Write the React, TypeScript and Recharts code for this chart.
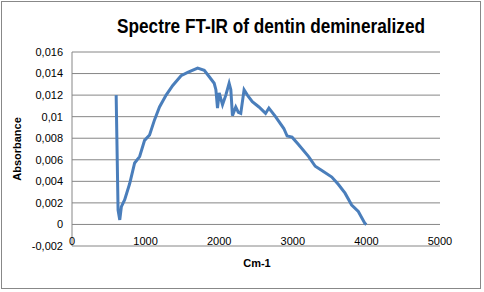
import React from 'react';
import { LineChart, Line, XAxis, YAxis, CartesianGrid } from 'recharts';

const wavenumbers = [
  600, 626, 649, 671, 716, 784, 851, 919, 986, 1054, 1121, 1189, 1279, 1369, 1482, 1572, 1707, 1797,
  1865, 1932, 1955, 1977, 2000, 2045, 2090, 2135, 2158, 2180, 2225, 2260, 2293, 2338, 2383, 2450,
  2540, 2630, 2675, 2765, 2878, 2923, 2990, 3080, 3215, 3305, 3395, 3530, 3620, 3710, 3800, 3890,
  3980, 4000,
];
const absorbance = [
  0.012, 0.00134, 0.00042, 0.00165, 0.0023, 0.0038, 0.0057, 0.0063, 0.0078, 0.0083, 0.0097, 0.0109,
  0.012, 0.0129, 0.0138, 0.0141, 0.0145, 0.0143, 0.0137, 0.0131, 0.0125, 0.0108, 0.0122, 0.0111,
  0.012, 0.0131, 0.0125, 0.0101, 0.0109, 0.0104, 0.0103, 0.0125, 0.012, 0.0114, 0.0109, 0.0103,
  0.0108, 0.01, 0.0089, 0.0082, 0.0081, 0.0074, 0.0063, 0.0054, 0.005, 0.0044, 0.0037, 0.0029,
  0.0018, 0.0012, 0.0001, 0,
];
const xTicks = [0, 1000, 2000, 3000, 4000, 5000];
const yTicks = [-0.002, 0, 0.002, 0.004, 0.006, 0.008, 0.01, 0.012, 0.014, 0.016];

const data = wavenumbers.map((w, i) => ({ w, a: absorbance[i] }));

const fmtY = (v: number) => String(Number(v.toFixed(3))).replace('.', ',');

const FONT = '"Liberation Sans", Arial, sans-serif';

export default function App() {
  return (
    <div style={{ position: 'absolute', left: 0, top: 0, width: 484, height: 292, background: '#fff' }}>
      <LineChart width={484} height={292} data={data} margin={{ top: 52, right: 44, bottom: 0, left: 0 }}>
        <CartesianGrid vertical={false} stroke="#868686" strokeWidth={1} />
        <XAxis
          dataKey="w"
          type="number"
          domain={[0, 5000]}
          ticks={xTicks}
          height={46}
          axisLine={false}
          tickLine={false}
          tickSize={0}
          tickMargin={0}
          interval={0}
          tick={{ fill: '#000', fontSize: 11, fontFamily: FONT, dy: -9 }}
        />
        <YAxis
          type="number"
          domain={[-0.002, 0.016]}
          ticks={yTicks}
          width={72}
          interval={0}
          axisLine={{ stroke: '#868686' }}
          tickLine={false}
          tickSize={0}
          tickMargin={9}
          tickFormatter={fmtY}
          tick={{ fill: '#000', fontSize: 11, fontFamily: FONT }}
        />
        <Line
          dataKey="a"
          type="linear"
          stroke="#4A7EBB"
          strokeWidth={3}
          dot={false}
          isAnimationActive={false}
        />
      </LineChart>
      <svg width={484} height={292} style={{ position: 'absolute', left: 0, top: 0, pointerEvents: 'none' }}>
        <rect x={1.5} y={1.5} width={479} height={287} fill="none" stroke="#888" strokeWidth={1} />
        <text
          x={271}
          y={33}
          textAnchor="middle"
          fontFamily={FONT}
          fontWeight="bold"
          fontSize={20}
          textLength={308}
          lengthAdjust="spacingAndGlyphs"
          fill="#000"
        >
          Spectre FT-IR of dentin demineralized
        </text>
        <text
          x={257}
          y={267}
          textAnchor="middle"
          fontFamily={FONT}
          fontWeight="bold"
          fontSize={11}
          fill="#000"
        >
          Cm-1
        </text>
        <text
          transform="translate(21,149) rotate(-90)"
          textAnchor="middle"
          fontFamily={FONT}
          fontWeight="bold"
          fontSize={11}
          fill="#000"
        >
          Absorbance
        </text>
      </svg>
    </div>
  );
}
